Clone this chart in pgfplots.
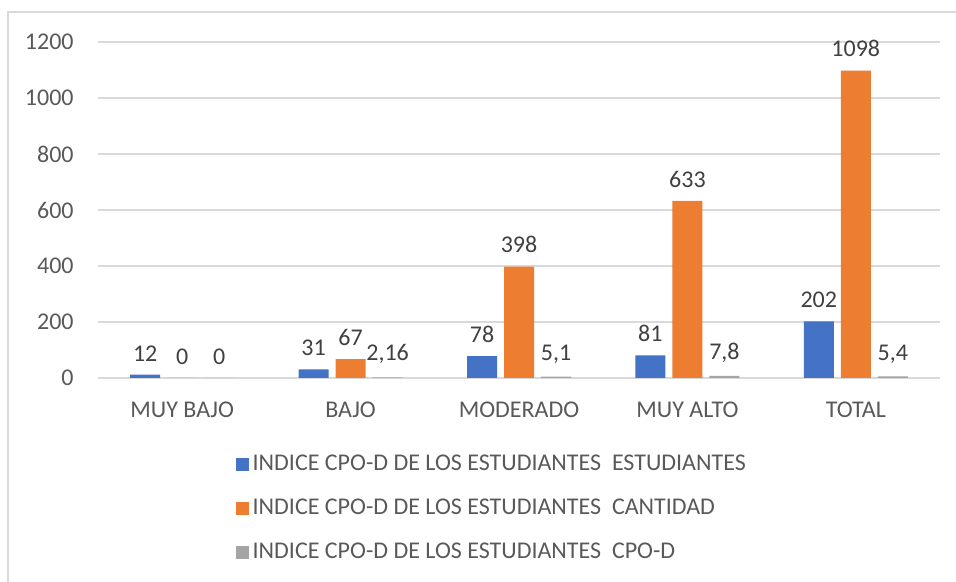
\documentclass[border=0pt]{standalone}
\usepackage{fontspec}
\setmainfont{Carlito}
\usepackage{pgfplots}
\pgfplotsset{compat=1.18}
\definecolor{cblue}{HTML}{4472C4}
\definecolor{corange}{HTML}{ED7D31}
\definecolor{cgray}{HTML}{A5A5A5}
\definecolor{cgrid}{HTML}{D9D9D9}
\definecolor{ctick}{HTML}{595959}
\definecolor{clabel}{HTML}{404040}
\begin{document}
\fontsize{12}{14}\selectfont
\begin{tikzpicture}
\useasboundingbox (-49pt,-102pt) rectangle (429pt,189pt);
\draw[cgrid, line width=0.8pt] (-45pt,-120pt) rectangle (440pt,183pt);
\begin{axis}[
  at={(0pt,0pt)}, anchor=south west,
  scale only axis, width=421pt, height=168pt,
  ybar=3.5pt, bar width=15pt,
  xmin=-0.5, xmax=4.5, ymin=0, ymax=1200,
  xtick={0,1,2,3,4},
  xticklabels={MUY BAJO,BAJO,MODERADO,MUY ALTO,TOTAL},
  ytick={0,200,400,600,800,1000,1200},
  yticklabel style={/pgf/number format/1000 sep={}},
  ymajorgrids, grid style={draw=cgrid, line width=0.7pt},
  axis x line=bottom, axis y line=left,
  x axis line style={draw=cgrid, line width=0.7pt, -},
  y axis line style={draw=none},
  major tick length=0pt, tick style={draw=none},
  ticklabel style={text=ctick, font=\fontsize{12}{14}\selectfont},
  xticklabel style={yshift=-8pt},
  yticklabel style={xshift=-8pt},
  /pgf/number format/assume math mode=true,
  nodes near coords, point meta=explicit symbolic,
  nodes near coords style={text=clabel, font=\fontsize{12}{14}\selectfont, yshift=2.5pt},
  legend style={at={(0.163,-0.216)}, anchor=north west, draw=none, fill=none,
    legend cell align=left, row sep=8.5pt, text=ctick,
    font=\fontsize{12}{14}\selectfont, inner sep=0pt},
  clip=false,
]
\addplot[fill=cblue, draw=none, legend image code/.code={\fill[cblue] (0pt,-3.25pt) rectangle (6.5pt,3.25pt);}]
  coordinates {(0,12)[12] (1,31)[31] (2,78)[78] (3,81)[81] (4,202)[202]};
\addplot[fill=corange, draw=none, legend image code/.code={\fill[corange] (0pt,-3.25pt) rectangle (6.5pt,3.25pt);}]
  coordinates {(0,0)[0] (1,67)[67] (2,398)[398] (3,633)[633] (4,1098)[1098]};
\addplot[fill=cgray, draw=none, legend image code/.code={\fill[cgray] (0pt,-3.25pt) rectangle (6.5pt,3.25pt);}]
  coordinates {(0,0)[0] (1,2.16)[2{,}16] (2,5.1)[5{,}1] (3,7.8)[7{,}8] (4,5.4)[5{,}4]};
\legend{INDICE CPO-D DE LOS ESTUDIANTES~ ESTUDIANTES,
        INDICE CPO-D DE LOS ESTUDIANTES~ CANTIDAD,
        INDICE CPO-D DE LOS ESTUDIANTES~ CPO-D}
\end{axis}
\end{tikzpicture}
\end{document}
